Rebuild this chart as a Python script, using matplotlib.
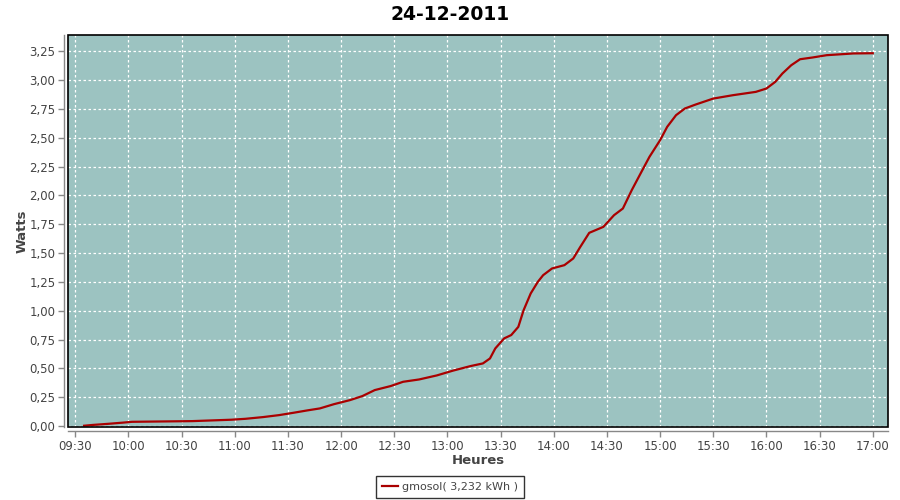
import matplotlib
matplotlib.use("Agg")
import matplotlib.pyplot as plt
import matplotlib.dates as mdates
from matplotlib.ticker import FuncFormatter, MultipleLocator
from matplotlib.patches import Rectangle
import pandas as pd

title = "24-12-2011"
day = "2011-12-24"
series_name = "gmosol( 3,232 kWh )"
times = ["09:35", "09:40", "09:49", "09:57", "10:02", "10:36", "10:58", "11:06",
         "11:16", "11:25", "11:33", "11:41", "11:48", "11:56", "12:05", "12:12",
         "12:19", "12:28", "12:35", "12:44", "12:54", "13:03", "13:13", "13:20",
         "13:24", "13:27", "13:32", "13:36", "13:40", "13:43", "13:47", "13:51",
         "13:54", "13:59", "14:06", "14:11", "14:15", "14:20", "14:28", "14:34",
         "14:39", "14:44", "14:49", "14:54", "15:00", "15:04", "15:09", "15:14",
         "15:20", "15:30", "15:41", "15:54", "16:00", "16:05", "16:09", "16:14",
         "16:19", "16:26", "16:34", "16:49", "17:00"]
values = [0.003, 0.010, 0.020, 0.030, 0.037, 0.043, 0.055, 0.063,
          0.078, 0.095, 0.115, 0.136, 0.153, 0.190, 0.225, 0.260,
          0.312, 0.347, 0.384, 0.404, 0.439, 0.480, 0.520, 0.543,
          0.586, 0.673, 0.760, 0.789, 0.860, 1.005, 1.150, 1.250,
          1.308, 1.366, 1.395, 1.453, 1.554, 1.675, 1.727, 1.828,
          1.886, 2.045, 2.190, 2.334, 2.478, 2.594, 2.695, 2.753,
          2.787, 2.839, 2.868, 2.897, 2.926, 2.984, 3.056, 3.128,
          3.180, 3.195, 3.215, 3.230, 3.232]

x = pd.to_datetime([f"{day} {t}" for t in times])

fig = plt.figure(figsize=(9, 5), dpi=100)
fig.patch.set_facecolor("white")
ax = fig.add_axes([68/900, 1-427/500, (888-68)/900, (427-35)/500])
ax.set_facecolor("#9cc3c1")

line, = ax.plot(x, values, color="#aa0000", lw=1.6, label=series_name, zorder=3)

ax.set_xlim(pd.Timestamp(f"{day} 09:25:54"), pd.Timestamp(f"{day} 17:08:36"))
ax.set_ylim(-0.008, 3.39)

ax.xaxis.set_major_locator(mdates.MinuteLocator(byminute=[0, 30]))
ax.xaxis.set_major_formatter(mdates.DateFormatter("%H:%M"))
ax.yaxis.set_major_locator(MultipleLocator(0.25))
ax.yaxis.set_major_formatter(FuncFormatter(lambda v, p: f"{v:.2f}".replace(".", ",")))

ax.grid(True, color="white", lw=0.9, linestyle=(0, (2, 2)))
ax.set_axisbelow(True)

for s in ["top", "right"]:
    ax.spines[s].set_visible(False)
for s in ["left", "bottom"]:
    ax.spines[s].set_position(("outward", 3))
    ax.spines[s].set_color("#888888")
    ax.spines[s].set_linewidth(1.0)
ax.add_patch(Rectangle((0, 0), 1, 1, transform=ax.transAxes, fill=False,
                       edgecolor="black", lw=1.2, zorder=5, clip_on=False))

ax.tick_params(axis="both", colors="#888888", labelcolor="#444444",
               labelsize=8.5, length=4, width=1, direction="out")
ax.tick_params(axis="x", pad=2)
ax.tick_params(axis="y", pad=2)

ax.set_xlabel("Heures", fontsize=9.5, fontweight="bold", color="#444444")
ax.xaxis.set_label_coords(0.5, -(460 - 427) / 392, transform=ax.transAxes)
ax.set_ylabel("Watts", fontsize=9.5, fontweight="bold", color="#444444")
ax.yaxis.set_label_coords(-(68 - 22) / 820, 0.5, transform=ax.transAxes)
ax.xaxis.label.set_va("center")
ax.yaxis.label.set_va("center")
fig.suptitle(title, fontsize=13.5, fontweight="bold", y=0.972, va="center")

leg = fig.legend(handles=[line], loc="center", bbox_to_anchor=(0.5, 1 - 487/500),
                 fontsize=8, frameon=True, fancybox=False, handlelength=1.4,
                 handletextpad=0.4, borderpad=0.5, borderaxespad=0)
leg.get_frame().set_edgecolor("black")
leg.get_frame().set_linewidth(1.0)
for t in leg.get_texts():
    t.set_color("#444444")

fig.savefig("out.png", dpi=100)
